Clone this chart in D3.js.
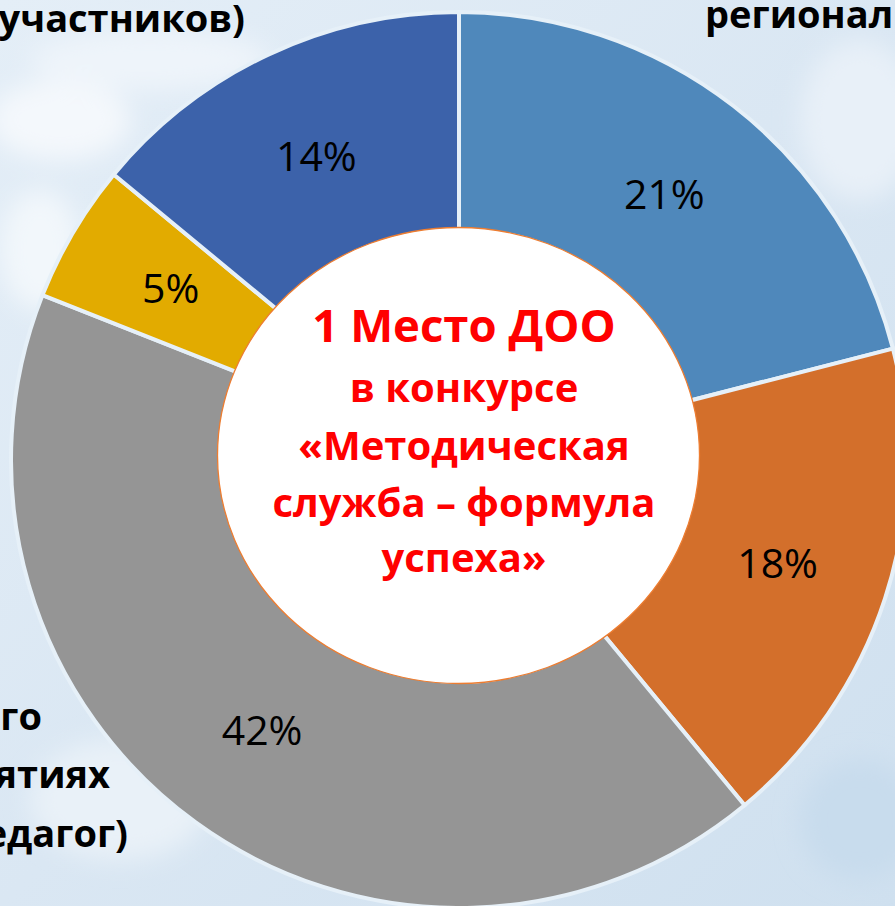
<!DOCTYPE html>
<html><head><meta charset="utf-8">
<script src="https://cdn.jsdelivr.net/npm/d3@7"></script>
<style>html,body{margin:0;padding:0;overflow:hidden;background:#dde9f4}</style>
</head><body>
<svg id="c" width="895" height="906"></svg>
<script>
// ---- data ----
const percentLabels = ["21%", "18%", "42%", "5%", "14%"];
const values = [21, 18, 42, 5, 14];
const sliceColors = ["#4f88bb", "#d36f2b", "#959595", "#e2ab00", "#3c62aa"];
const centerLines = ["1 Место ДОО", "в конкурсе", "«Методическая", "служба – формула", "успеха»"];
const outerTopLeft = ["участников)"];
const outerTopRight = ["регионал"];
const outerBottomLeft = ["го", "ятиях", "едагог)"];

// ---- drawing ----
const W = 895, H = 906;
const svg = d3.select("#c");
const defs = svg.append("defs");

const bg = defs.append("linearGradient").attr("id", "bg").attr("x1", 0).attr("y1", 0).attr("x2", 1).attr("y2", 1);
bg.append("stop").attr("offset", "0%").attr("stop-color", "#e4eef7");
bg.append("stop").attr("offset", "50%").attr("stop-color", "#dae7f3");
bg.append("stop").attr("offset", "100%").attr("stop-color", "#cfe0ef");
const blur = defs.append("filter").attr("id", "blur").attr("x", "-50%").attr("y", "-50%").attr("width", "200%").attr("height", "200%");
blur.append("feGaussianBlur").attr("stdDeviation", 12);

svg.append("rect").attr("width", W).attr("height", H).attr("fill", "url(#bg)");
const blobs = svg.append("g").attr("filter", "url(#blur)");
[[60, 120, 70, 40, "#f4f8fc"], [150, 60, 120, 30, "#eef4fa"], [40, 250, 40, 60, "#f2f7fb"],
 [120, 800, 90, 60, "#e9f1f8"], [860, 120, 60, 80, "#e8f0f8"], [860, 820, 60, 60, "#c8dced"]]
  .forEach(b => blobs.append("ellipse").attr("cx", b[0]).attr("cy", b[1]).attr("rx", b[2]).attr("ry", b[3]).attr("fill", b[4]));

const cx = 459, cy = 460, rOuter = 448, rInner = 222;
const g = svg.append("g").attr("transform", `translate(${cx},${cy})`);

const pie = d3.pie().sort(null).value(d => d);
const arcs = pie(values);
const arc = d3.arc().innerRadius(rInner).outerRadius(rOuter);
const labelArc = d3.arc().innerRadius((rInner + rOuter) / 2).outerRadius((rInner + rOuter) / 2);

g.selectAll("path.slice").data(arcs).join("path")
  .attr("class", "slice")
  .attr("d", arc)
  .attr("fill", (d, i) => sliceColors[i])
  .attr("stroke", "#e6f0f8")
  .attr("stroke-width", 4)
  .attr("stroke-linejoin", "miter");

g.selectAll("text.pct").data(arcs).join("text")
  .attr("class", "pct")
  .attr("transform", d => `translate(${labelArc.centroid(d)})`)
  .attr("dy", -2)
  .attr("text-anchor", "middle")
  .attr("dominant-baseline", "central")
  .attr("font-family", "'Open Sans', sans-serif")
  .attr("font-size", 41)
  .attr("fill", "#000")
  .text((d, i) => percentLabels[i]);

// center disc
svg.append("ellipse")
  .attr("cx", 458.5).attr("cy", 455.5).attr("rx", 241).attr("ry", 228)
  .attr("fill", "#ffffff").attr("stroke", "#ed7d31").attr("stroke-width", 1.3);

const baselines = [342, 402, 460, 517, 572];
const sizes = [45.5, 40, 40, 40, 40];
svg.selectAll("text.center").data(centerLines).join("text")
  .attr("class", "center")
  .attr("x", 464)
  .attr("y", (d, i) => baselines[i])
  .attr("text-anchor", "middle")
  .attr("font-family", "'Open Sans', sans-serif")
  .attr("font-weight", 700)
  .attr("font-size", (d, i) => sizes[i])
  .attr("fill", "#ff0000")
  .text(d => d);

// outer (cropped) category labels
const outerFont = "'Open Sans', sans-serif";
svg.append("text").attr("x", 245).attr("y", 32).attr("text-anchor", "end")
  .attr("font-family", outerFont).attr("font-weight", 700).attr("font-size", 38).attr("fill", "#000")
  .text(outerTopLeft[0]);
svg.append("text").attr("x", 705).attr("y", 28).attr("text-anchor", "start")
  .attr("font-family", outerFont).attr("font-weight", 700).attr("font-size", 38).attr("fill", "#000")
  .text(outerTopRight[0]);
const blEnds = [42, 110, 128], blBase = [730, 788, 847];
svg.selectAll("text.bl").data(outerBottomLeft).join("text")
  .attr("class", "bl")
  .attr("x", (d, i) => blEnds[i]).attr("y", (d, i) => blBase[i])
  .attr("text-anchor", "end")
  .attr("font-family", outerFont).attr("font-weight", 700).attr("font-size", 38).attr("fill", "#000")
  .text(d => d);
</script>
</body></html>
